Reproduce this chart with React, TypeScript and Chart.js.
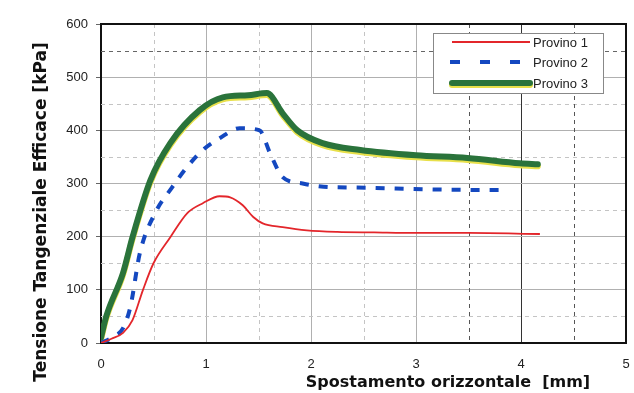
import React, { useEffect, useRef } from "react";
import { Chart, registerables } from "chart.js";

Chart.register(...registerables);

const seriesNames = ["Provino 1", "Provino 2", "Provino 3"];

const x1 = [0, 0.1, 0.21, 0.3, 0.4, 0.5, 0.66, 0.82, 0.97, 1.13, 1.23, 1.35, 1.45, 1.54, 1.73, 1.96, 2.25, 2.6, 3.0, 3.5, 4.18];
const y1 = [0, 8, 19, 43, 100, 150, 199, 244, 263, 276, 274, 259, 237, 225, 218, 212, 209, 208, 207, 207, 205];

const x2 = [0, 0.1, 0.21, 0.28, 0.37, 0.53, 0.66, 0.82, 0.97, 1.13, 1.32, 1.51, 1.61, 1.73, 1.92, 2.12, 2.53, 3.1, 3.51, 3.8];
const y2 = [0, 10, 28, 68, 169, 250, 288, 331, 363, 385, 404, 400, 357, 312, 300, 294, 292, 289, 288, 288];

const x3 = [0, 0.05, 0.21, 0.3, 0.47, 0.66, 0.94, 1.16, 1.4, 1.58, 1.73, 1.87, 2.11, 2.47, 3.0, 3.49, 3.99, 4.16];
const y3 = [10, 50, 132, 199, 306, 376, 438, 462, 466, 470, 432, 400, 376, 363, 353, 348, 338, 336];

const xTicks = [0, 1, 2, 3, 4, 5];
const yTicks = [0, 100, 200, 300, 400, 500, 600];
const xMinor = [0.5, 1.5, 2.5, 3.5, 4.5];
const yMinor = [50, 150, 250, 350, 450, 550];

const yTitle = "Tensione Tangenziale Efficace [kPa]";
const xTitle = "Spostamento orizzontale  [mm]";

const RED = "#e3262b";
const BLUE = "#1448c0";
const GREEN = "#2a733b";
const YELLOW = "#e8e04a";

const TITLE_FAMILY = "'DejaVu Sans', Verdana, sans-serif";
const TICK_FONT = "'Liberation Sans', Arial, sans-serif";

const toPts = (xs: number[], ys: number[]) => xs.map((x, i) => ({ x, y: ys[i] }));

const decorPlugin = {
  id: "decor",
  beforeDatasetsDraw(chart: any) {
    const { ctx, chartArea: ca, scales } = chart;
    const xs = scales.x;
    const ys = scales.y;
    ctx.save();
    ctx.lineWidth = 1;
    ctx.setLineDash([4, 4]);
    yMinor.forEach((v) => {
      const py = Math.round(ys.getPixelForValue(v)) + 0.5;
      ctx.strokeStyle = v === 550 ? "#666" : "#c4c4c4";
      ctx.beginPath();
      ctx.moveTo(ca.left, py);
      ctx.lineTo(ca.right, py);
      ctx.stroke();
    });
    xMinor.forEach((v) => {
      const px = Math.round(xs.getPixelForValue(v)) + 0.5;
      ctx.strokeStyle = v >= 3.5 ? "#555" : "#c4c4c4";
      ctx.beginPath();
      ctx.moveTo(px, ca.top);
      ctx.lineTo(px, ca.bottom);
      ctx.stroke();
    });
    ctx.setLineDash([]);
    ctx.strokeStyle = "#111";
    ctx.lineWidth = 2;
    ctx.beginPath();
    ctx.moveTo(ca.left, ca.top);
    ctx.lineTo(ca.right, ca.top);
    ctx.lineTo(ca.right, ca.bottom);
    ctx.stroke();
    ctx.restore();
  },
  beforeDatasetDraw(chart: any, args: any) {
    if (args.index === 2) {
      const ctx = chart.ctx;
      ctx.save();
      ctx.shadowColor = YELLOW;
      ctx.shadowOffsetY = 2;
      ctx.shadowOffsetX = 0;
      ctx.shadowBlur = 0;
    }
  },
  afterDatasetDraw(chart: any, args: any) {
    if (args.index === 2) chart.ctx.restore();
  },
  afterDraw(chart: any) {
    const { ctx, chartArea: ca } = chart;
    ctx.save();
    ctx.fillStyle = "#111";
    ctx.textAlign = "center";
    ctx.textBaseline = "middle";
    ctx.save();
    ctx.font = "bold 17px " + TITLE_FAMILY;
    ctx.translate(ca.left - 59, ca.bottom - 131);
    ctx.rotate(-Math.PI / 2);
    ctx.fillText(yTitle, 0, 0);
    ctx.restore();
    ctx.font = "bold 16px " + TITLE_FAMILY;
    ctx.fillText(xTitle, ca.left + 347, ca.bottom + 40);

    // legend
    const lx = ca.right - 193;
    const ly = ca.top + 9;
    ctx.fillStyle = "#fff";
    ctx.fillRect(lx, ly, 170, 60);
    ctx.strokeStyle = "#888";
    ctx.lineWidth = 1;
    ctx.strokeRect(lx + 0.5, ly + 0.5, 170, 60);
    const rows = [ly + 9, ly + 29, ly + 50];
    const ds = chart.data.datasets;
    ctx.strokeStyle = ds[0].borderColor;
    ctx.lineWidth = 2;
    ctx.beginPath();
    ctx.moveTo(lx + 19, rows[0]);
    ctx.lineTo(lx + 97, rows[0]);
    ctx.stroke();
    ctx.strokeStyle = ds[1].borderColor;
    ctx.lineWidth = 4;
    ctx.setLineDash([10, 20]);
    ctx.beginPath();
    ctx.moveTo(lx + 17, rows[1]);
    ctx.lineTo(lx + 97, rows[1]);
    ctx.stroke();
    ctx.setLineDash([]);
    ctx.save();
    ctx.shadowColor = YELLOW;
    ctx.shadowOffsetY = 2;
    ctx.strokeStyle = ds[2].borderColor;
    ctx.lineWidth = 6;
    ctx.lineCap = "round";
    ctx.beginPath();
    ctx.moveTo(lx + 19, rows[2]);
    ctx.lineTo(lx + 97, rows[2]);
    ctx.stroke();
    ctx.restore();
    ctx.fillStyle = "#222";
    ctx.font = "13px " + TICK_FONT;
    ctx.textAlign = "left";
    ctx.textBaseline = "middle";
    seriesNames.forEach((n, i) => ctx.fillText(n, lx + 100, rows[i] + 1));
    ctx.restore();
  },
};

export default function App() {
  const ref = useRef<HTMLCanvasElement | null>(null);
  useEffect(() => {
    document.body.style.margin = "0";
    const canvas = ref.current;
    if (!canvas) return;
    const chart = new Chart(canvas, {
      type: "line",
      data: {
        datasets: [
          {
            label: seriesNames[0],
            data: toPts(x1, y1),
            borderColor: RED,
            borderWidth: 1.8,
            pointRadius: 0,
            cubicInterpolationMode: "monotone",
          },
          {
            label: seriesNames[1],
            data: toPts(x2, y2),
            borderColor: BLUE,
            borderWidth: 4,
            borderDash: [9, 10],
            pointRadius: 0,
            cubicInterpolationMode: "monotone",
          },
          {
            label: seriesNames[2],
            data: toPts(x3, y3),
            borderColor: GREEN,
            borderWidth: 6,
            borderCapStyle: "round",
            borderJoinStyle: "round",
            pointRadius: 0,
            cubicInterpolationMode: "monotone",
          },
        ] as any,
      },
      options: {
        responsive: false,
        animation: false,
        layout: { padding: { top: 24, right: 8, left: 0, bottom: 0 } },
        plugins: { legend: { display: false }, tooltip: { enabled: false } },
        scales: {
          x: {
            type: "linear",
            min: 0,
            max: 5,
            afterFit: (s: any) => {
              s.height = 50;
            },
            afterBuildTicks: (s: any) => {
              s.ticks = xTicks.map((v) => ({ value: v }));
            },
            ticks: {
              color: "#222",
              font: { size: 13, family: TICK_FONT },
              padding: 4,
            },
            grid: {
              color: (c: any) => (c.tick && c.tick.value === 4 ? "#333" : "#b0b0b0"),
              tickLength: 10,
              tickColor: "rgba(0,0,0,0)",
            },
            border: { color: "#111", width: 2 },
          },
          y: {
            type: "linear",
            min: 0,
            max: 600,
            afterFit: (s: any) => {
              s.width = 101;
            },
            afterBuildTicks: (s: any) => {
              s.ticks = yTicks.map((v) => ({ value: v }));
            },
            ticks: {
              color: "#222",
              font: { size: 13, family: TICK_FONT },
              padding: 8,
            },
            grid: { color: "#b0b0b0", tickLength: 5, tickColor: "#666" },
            border: { color: "#111", width: 2 },
          },
        },
      } as any,
      plugins: [decorPlugin],
    });
    return () => chart.destroy();
  }, []);
  return (
    <div style={{ position: "fixed", left: 0, top: 0, width: 634, height: 393, background: "#fff" }}>
      <canvas ref={ref} width={634} height={393} style={{ width: 634, height: 393, display: "block" }} />
    </div>
  );
}
